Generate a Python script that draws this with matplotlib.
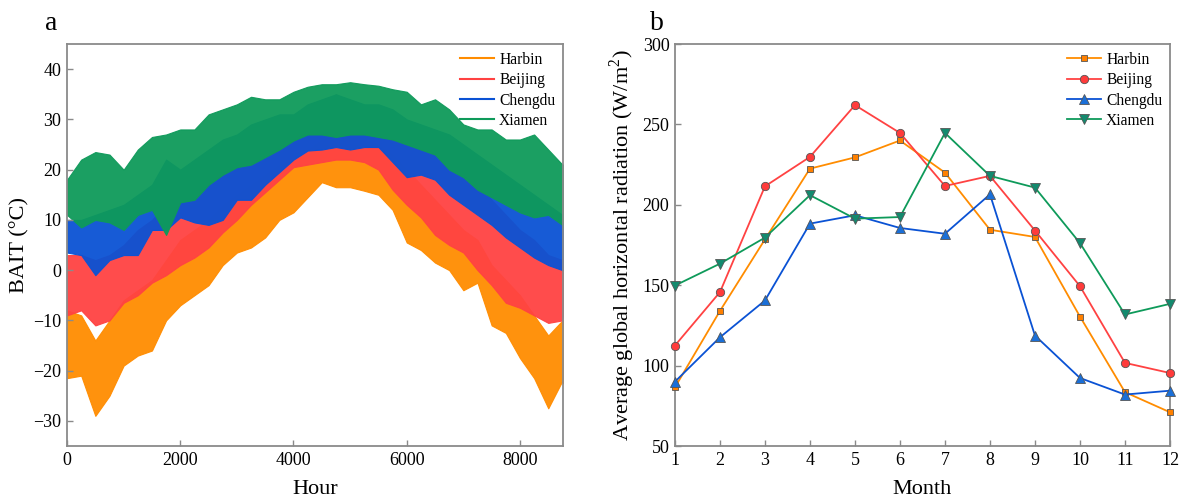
import matplotlib
matplotlib.use("Agg")
import matplotlib.pyplot as plt
from matplotlib.lines import Line2D

plt.rcParams['font.family'] = ['Liberation Serif', 'DejaVu Serif']
plt.rcParams['mathtext.fontset'] = 'custom'
plt.rcParams['mathtext.rm'] = 'Liberation Serif'

# ---------------- data: panel a (envelopes of hourly BAIT) ----------
hours = [0, 250, 500, 750, 1000, 1250, 1500, 1750, 2000, 2250, 2500, 2750, 3000, 3250,
         3500, 3750, 4000, 4250, 4500, 4750, 5000, 5250, 5500, 5750, 6000, 6250, 6500,
         6750, 7000, 7250, 7500, 7750, 8000, 8250, 8500, 8750, 8760]

harbin_low = [-21.5, -21, -29, -25, -19, -17, -16, -10, -7, -5, -3, 1, 3.5, 4.5, 6.5, 10,
              11.5, 14.5, 17.5, 16.5, 16.5, 15.8, 15, 12, 5.5, 4, 1.5, 0, -4, -2.5, -11,
              -12.5, -17.5, -21.5, -27.5, -22, -22.5]
harbin_high = [-8, -9, -14, -10, -6, -4, -2, 2, 6, 8, 10, 13, 15, 17, 19, 21, 22, 24, 26,
               26, 26, 26, 25, 23, 20, 17, 14, 11, 8, 6, 1, -2, -5, -9, -13, -10, -10]

beijing_low = [-9, -8, -11, -10, -6.5, -5, -2.5, -1, 1, 2.5, 4.5, 7.5, 10, 13, 15.5, 18,
               20.5, 21, 21.5, 22, 22, 21.5, 20, 16, 13, 10.5, 7, 5, 3.5, 0, -3, -6.5,
               -7.5, -9, -10.5, -10, -9]
beijing_high = [3, 3, 2, 3, 5, 8, 10, 13, 14, 17, 19, 21, 23, 25, 27, 29, 30, 31, 33, 35,
                33, 32, 31, 30, 29, 27, 25, 22, 20, 17, 14, 11, 8, 6, 3, 2, 2]

chengdu_low = [3.5, 3, -1, 2, 3, 3, 8, 8, 10.5, 9.5, 9, 10, 14, 14, 17, 19.5, 22, 23.8,
               24, 24.5, 24, 24.5, 24.5, 21.5, 18.5, 19, 18, 15, 13, 11, 9, 6.5, 4.5, 2.5,
               1, 0, 0]
chengdu_high = [10, 10, 11, 12, 13, 15, 17, 22, 20, 22, 24, 26, 27, 29, 30, 31, 31, 33,
                34, 35, 34, 33, 33, 32, 30, 29, 28, 27, 25, 23, 21, 19, 17, 15, 13, 11, 10]

xiamen_low = [11, 8.5, 10, 9.5, 8, 11, 12, 7, 13.5, 14, 17, 19, 20.5, 21, 22.5, 24, 25.8,
              27, 27, 26.5, 27, 27, 26.5, 26, 25, 24, 23, 20, 18.5, 16, 14.5, 13, 11.5,
              10.5, 11, 9, 8.5]
xiamen_high = [18, 22, 23.5, 23, 20, 24, 26.5, 27, 28, 28, 31, 32, 33, 34.5, 34, 34, 35.5,
               36.5, 37, 37, 37.4, 37, 36.7, 36, 35.5, 33, 34, 32, 29, 28, 28, 26, 26, 27,
               24, 21, 21]

# ---------------- data: panel b (monthly average global horizontal radiation) ------------
months = [1, 2, 3, 4, 5, 6, 7, 8, 9, 10, 11, 12]
harbin_rad = [86.5, 134, 178.5, 222.5, 229.5, 240, 220, 184.5, 180, 130.5, 83.5, 71]
beijing_rad = [112.5, 145.7, 211.5, 229.8, 262, 244.7, 211.7, 218, 184, 149.4, 101.7, 95.4]
chengdu_rad = [90, 117.6, 140.5, 188.3, 193.5, 185.6, 182, 206.5, 118.7, 92.3, 82, 84.4]
xiamen_rad = [149.8, 163.4, 179.6, 206, 191.4, 192.4, 244.7, 218, 210.7, 176.2, 131.8, 138.4]

cities = ['Harbin', 'Beijing', 'Chengdu', 'Xiamen']

# ---------------- style ----------------
line_colors = ['#FF8C00', '#FF4242', '#0A52D4', '#0E9A5A']
face_colors = ['#FF8000', '#FF3B3B', '#1A6FD8', '#138A6E']
markers = ['s', 'o', '^', 'v']
msizes = [5.0, 6.0, 6.5, 6.5]
spine_col = '#8A8A8A'

fig = plt.figure(figsize=(11.8, 4.98), dpi=100)
ax1 = fig.add_axes([0.0568, 0.1044, 0.4203, 0.8072])
ax2 = fig.add_axes([0.5720, 0.1044, 0.4195, 0.8072])

# panel a
lows = [harbin_low, beijing_low, chengdu_low, xiamen_low]
highs = [harbin_high, beijing_high, chengdu_high, xiamen_high]
for lo, hi, c in zip(lows, highs, line_colors):
    ax1.fill_between(hours, lo, hi, color=c, linewidth=0.8, edgecolor=c, alpha=0.95)
ax1.set_xlim(0, 8760)
ax1.set_ylim(-35, 45)
ax1.set_xticks([0, 2000, 4000, 6000, 8000])
ax1.set_yticks([-30, -20, -10, 0, 10, 20, 30, 40])
ax1.set_yticklabels(['\u221230', '\u221220', '\u221210', '0', '10', '20', '30', '40'])
ax1.set_xlabel('Hour', fontsize=16, labelpad=8)
ax1.set_ylabel('BAIT (\u00b0C)', fontsize=16, labelpad=3)
handles1 = [Line2D([0], [0], color=c, lw=1.5) for c in line_colors]
ax1.legend(handles1, cities, loc='upper right', frameon=False, fontsize=11.2,
           handlelength=2.15, handletextpad=0.35, labelspacing=0.28,
           borderaxespad=0.1)
ax1.text(-0.045, 1.035, 'a', transform=ax1.transAxes, fontsize=20, va='baseline', ha='left')

# panel b
rads = [harbin_rad, beijing_rad, chengdu_rad, xiamen_rad]
for r, c, fc, m, ms, name in zip(rads, line_colors, face_colors, markers, msizes, cities):
    ax2.plot(months, r, color=c, lw=1.3, marker=m, markersize=ms,
             markerfacecolor=fc, markeredgecolor='#555555', markeredgewidth=0.6,
             label=name, clip_on=False, zorder=3)
ax2.set_xlim(1, 12)
ax2.set_ylim(50, 300)
ax2.set_xticks(months)
ax2.set_yticks([50, 100, 150, 200, 250, 300])
ax2.set_xlabel('Month', fontsize=16, labelpad=8)
ax2.set_ylabel('Average global horizontal radiation (W/m$^2$)', fontsize=16, labelpad=4)
ax2.legend(loc='upper right', frameon=False, fontsize=11.2, handlelength=2.15,
           handletextpad=0.35, labelspacing=0.28, borderaxespad=0.1)
ax2.text(-0.05, 1.035, 'b', transform=ax2.transAxes, fontsize=20, va='baseline', ha='left')

for ax in (ax1, ax2):
    for s in ax.spines.values():
        s.set_color(spine_col)
        s.set_linewidth(1.3)
    ax.tick_params(direction='in', length=4, width=1, color=spine_col,
                   labelsize=13, pad=4, top=False, right=False)

fig.savefig('out.png', dpi=100)
